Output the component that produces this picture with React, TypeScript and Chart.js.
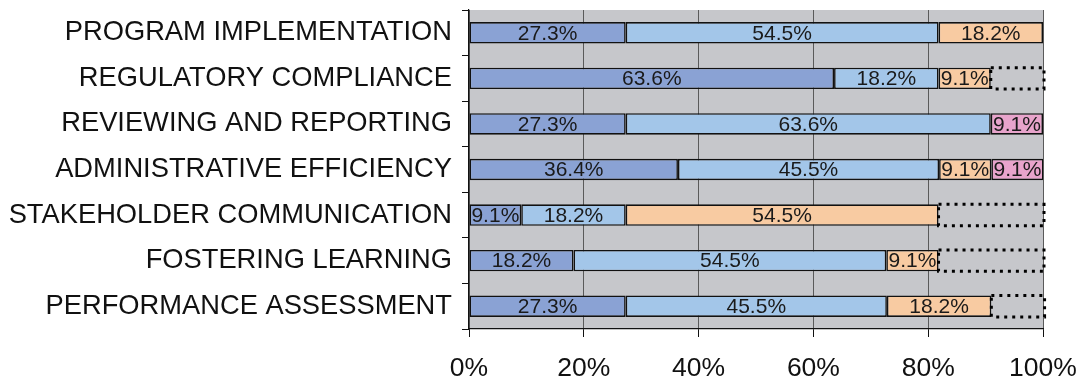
import React, { useEffect, useRef } from "react";
import { Chart, registerables } from "chart.js";

Chart.register(...registerables);

const categories = [
  "PROGRAM IMPLEMENTATION",
  "REGULATORY COMPLIANCE",
  "REVIEWING AND REPORTING",
  "ADMINISTRATIVE EFFICIENCY",
  "STAKEHOLDER COMMUNICATION",
  "FOSTERING LEARNING",
  "PERFORMANCE ASSESSMENT",
];

const seriesA = [27.3, 63.6, 27.3, 36.4, 9.1, 18.2, 27.3];
const seriesB = [54.5, 18.2, 63.6, 45.5, 18.2, 54.5, 45.5];
const seriesC = [18.2, 9.1, 0, 9.1, 54.5, 9.1, 18.2];
const seriesD = [0, 0, 9.1, 9.1, 0, 0, 0];
const seriesNoAnswer = [0, 9.1, 0, 0, 18.2, 18.2, 9.1];

const xTicks = [0, 20, 40, 60, 80, 100];

const FONT = "'Liberation Sans', Arial, sans-serif";

const bgPlugin = {
  id: "plotBg",
  beforeDraw(chart: any) {
    const { ctx, chartArea } = chart;
    ctx.save();
    ctx.fillStyle = "#C6C7CB";
    ctx.fillRect(chartArea.left, chartArea.top, chartArea.right - chartArea.left, chartArea.bottom - chartArea.top);
    ctx.restore();
  },
};

const overlayPlugin = {
  id: "overlay",
  afterDatasetsDraw(chart: any) {
    const { ctx } = chart;
    ctx.save();
    chart.data.datasets.forEach((ds: any, di: number) => {
      const meta = chart.getDatasetMeta(di);
      meta.data.forEach((el: any, i: number) => {
        const v = ds.data[i];
        if (!v) return;
        const left = Math.min(el.x, el.base);
        const right = Math.max(el.x, el.base);
        const top = el.y - el.height / 2;
        if (ds.dotted) {
          ctx.strokeStyle = "#000";
          ctx.lineWidth = 3;
          ctx.setLineDash([3, 5]);
          ctx.strokeRect(left, top, right - left + 1, el.height);
          ctx.setLineDash([]);
        } else {
          ctx.fillStyle = "#1a1a1a";
          ctx.font = `21px ${FONT}`;
          ctx.textAlign = "center";
          ctx.textBaseline = "middle";
          ctx.fillText(v.toFixed(1) + "%", (left + right) / 2, el.y + 1);
        }
      });
    });
    ctx.restore();
  },
};

export default function App() {
  const ref = useRef<HTMLCanvasElement | null>(null);

  useEffect(() => {
    if (!ref.current) return;
    const mk = (label: string, data: number[], color: string) => ({
      label,
      data,
      backgroundColor: color,
      borderColor: "#111",
      borderWidth: 1.6,
      borderSkipped: false,
      barPercentage: 0.47,
      categoryPercentage: 1,
    });
    const chart = new Chart(ref.current, {
      type: "bar",
      data: {
        labels: categories,
        datasets: [
          mk("A", seriesA, "#8AA2D4"),
          mk("B", seriesB, "#A3C6E9"),
          mk("C", seriesC, "#F8CBA2"),
          mk("D", seriesD, "#E8A4CC"),
          {
            label: "No answer",
            data: seriesNoAnswer,
            backgroundColor: "rgba(0,0,0,0)",
            borderWidth: 0,
            barPercentage: 0.47,
            categoryPercentage: 1,
            dotted: true,
          } as any,
        ],
      },
      options: {
        indexAxis: "y",
        animation: false,
        responsive: true,
        maintainAspectRatio: false,
        layout: { padding: { top: 10, right: 39, left: 0, bottom: 0 } },
        plugins: { legend: { display: false }, tooltip: { enabled: false } },
        scales: {
          x: {
            stacked: true,
            min: 0,
            max: 100,
            afterBuildTicks: (scale: any) => {
              scale.ticks = xTicks.map((v) => ({ value: v }));
            },
            afterFit: (scale: any) => {
              scale.height = 54;
              scale.paddingLeft = 0;
              scale.paddingRight = 0;
            },
            ticks: {
              callback: (v: any) => v + "%",
              font: { family: FONT, size: 26.5 },
              color: "#111",
              padding: 16,
              maxRotation: 0,
            },
            grid: {
              color: "#5a5a5a",
              lineWidth: 1,
              tickLength: 8,
              tickColor: "#111",
              drawOnChartArea: true,
            },
            border: { color: "#111", width: 1.2 },
          },
          y: {
            stacked: true,
            afterFit: (scale: any) => {
              scale.width = 469;
              scale.paddingTop = 0;
              scale.paddingBottom = 0;
            },
            ticks: {
              font: { family: FONT, size: 27.3 },
              color: "#111",
              padding: 10,
            },
            grid: {
              offset: true,
              drawOnChartArea: false,
              tickLength: 7,
              tickColor: "#111",
            },
            border: { color: "#111", width: 1.2 },
          },
        },
      },
      plugins: [bgPlugin, overlayPlugin],
    });
    return () => chart.destroy();
  }, []);

  return (
    <div style={{ position: "fixed", left: 0, top: 0, width: 1082, height: 383, background: "#fff" }}>
      <canvas ref={ref} />
    </div>
  );
}
